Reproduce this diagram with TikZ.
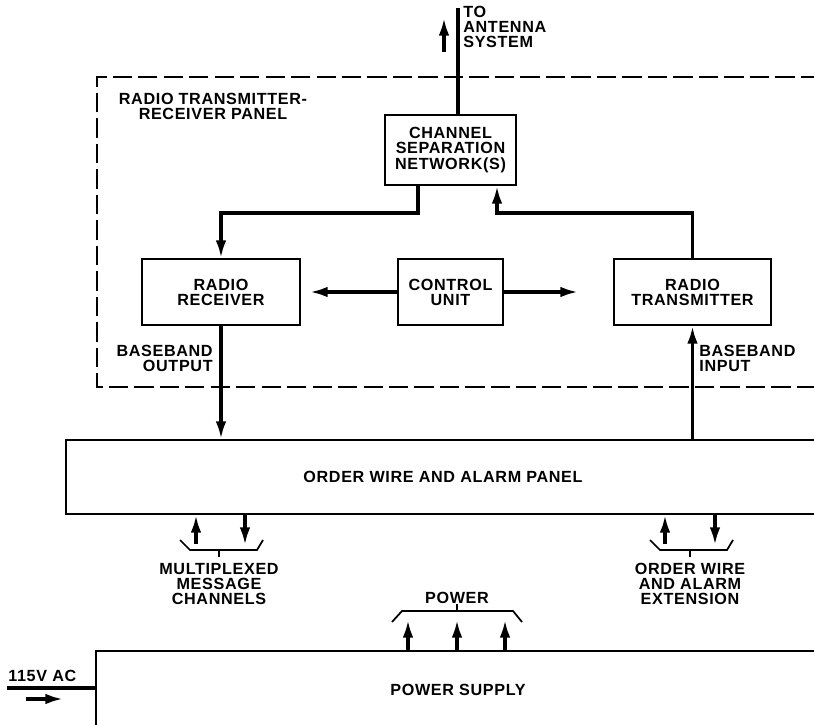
\documentclass[tikz,border=0pt]{standalone}
\usepackage{fontspec}
\setmainfont{Liberation Sans}[LetterSpace=4]
\usetikzlibrary{arrows.meta}
\begin{document}
\begin{tikzpicture}[
    every node/.style={font=\bfseries\fontsize{9.2}{8.6}\selectfont, align=center, inner sep=0pt},
    blok/.style={draw, line width=1.2pt, minimum height=1.32cm},
    strz/.style={line width=1.8pt, -{Latex[length=10pt,width=6pt]}},
    linia/.style={line width=1.8pt},
    klamra/.style={line width=1pt}]
        \clip (0,0) rectangle (16.28,14.48);

        % Panel nadajnika-odbiornika
        \draw[line width=1pt, dash pattern=on 11pt off 3.5pt] (16.4,12.94) -- (1.94,12.94) -- (1.94,6.74) -- (16.4,6.74);
        \node (panel) at (4.26,12.36) {RADIO TRANSMITTER-\\RECEIVER PANEL};

        % Bloki
        \node[blok, minimum width=2.62cm, minimum height=1.4cm] (csn) at (9.01,11.48) {CHANNEL\\SEPARATION\\NETWORK(S)};
        \node[blok, minimum width=3.16cm] (rx) at (4.42,8.64) {RADIO\\RECEIVER};
        \node[blok, minimum width=2.1cm] (cu) at (9.01,8.64) {CONTROL\\UNIT};
        \node[blok, minimum width=3.14cm] (tx) at (13.85,8.64) {RADIO\\TRANSMITTER};
        \node[blok, minimum width=15.08cm, minimum height=1.48cm] (ow) at (8.86,4.94) {ORDER WIRE AND ALARM PANEL};
        \node[blok, minimum width=14.48cm, minimum height=1.56cm] (ps) at (9.16,0.68) {POWER SUPPLY};

        % Antena
        \coordinate (ant) at (9.16,14.32);
        \draw[linia] (csn.north -| ant) -- (ant);
        \coordinate (a1) at (8.88,13.44);
        \coordinate (a2) at (8.88,14.12);
        \draw[strz] (a1) -- (a2);
        \node[anchor=north west, align=left] (antena) at (9.26,14.36) {TO\\ANTENNA\\SYSTEM};

        % Polaczenia z siecia separacji kanalow
        \coordinate (j1) at (8.36,10.22);
        \coordinate (j2) at (9.94,10.22);
        \draw[strz] (csn.south -| j1) -- (j1) -| (rx.north);
        \draw[strz] (tx.north) |- (j2) -- (csn.south -| j2);

        % Sterowanie
        \coordinate (cl) at (6.2,8.64);
        \coordinate (cr) at (11.56,8.64);
        \draw[strz] (cu.west) -- (cl);
        \draw[strz] (cu.east) -- (cr);

        % Pasmo podstawowe
        \draw[strz] (rx.south) -- (rx.south |- ow.north);
        \draw[strz] (tx.south |- ow.north) -- (tx.south);
        \node[anchor=east, align=right] (bbo) at (4.26,7.32) {BASEBAND\\OUTPUT};
        \node[anchor=west, align=left] (bbi) at (13.98,7.32) {BASEBAND\\INPUT};

        % Kanaly wiadomosci
        \coordinate (m1) at (3.92,3.6);
        \coordinate (m2) at (4.9,3.58);
        \draw[strz] (m1) -- (m1 |- ow.south);
        \draw[strz] (m2 |- ow.south) -- (m2);
        \draw[klamra] (3.6,3.68) -- (3.8,3.48) -- (5.14,3.48) -- (5.26,3.68);
        \node[anchor=north] (mux) at (4.38,3.22) {MULTIPLEXED\\MESSAGE\\CHANNELS};
        \draw[klamra] (4.38,3.48) -- (4.38,3.34);

        % Rozszerzenie
        \coordinate (e1) at (13.3,3.6);
        \coordinate (e2) at (14.3,3.58);
        \draw[strz] (e1) -- (e1 |- ow.south);
        \draw[strz] (e2 |- ow.south) -- (e2);
        \draw[klamra] (13.0,3.68) -- (13.2,3.48) -- (14.54,3.48) -- (14.66,3.68);
        \node[anchor=north] (ext) at (13.8,3.22) {ORDER WIRE\\AND ALARM\\EXTENSION};
        \draw[klamra] (13.8,3.48) -- (13.8,3.34);

        % Zasilanie
        \node (pwr) at (9.14,2.52) {POWER};
        \draw[klamra] (7.84,2.04) -- (8.04,2.26) -- (10.26,2.26) -- (10.44,2.04);
        \draw[klamra] (9.14,2.26) -- (pwr.south);
        \foreach \x in {8.16,9.14,10.1}
            \draw[strz] (ps.north -| \x,0) -- (\x,2.08);

        % Wejscie 115V
        \coordinate (ac) at (0.14,0.72);
        \draw[linia] (ac) -- (ac -| ps.west);
        \node[anchor=south west] (acl) at (0.16,0.84) {115V AC};
        \coordinate (r1) at (0.52,0.5);
        \coordinate (r2) at (1.26,0.5);
        \draw[strz] (r1) -- (r2);
\end{tikzpicture}
\end{document}
